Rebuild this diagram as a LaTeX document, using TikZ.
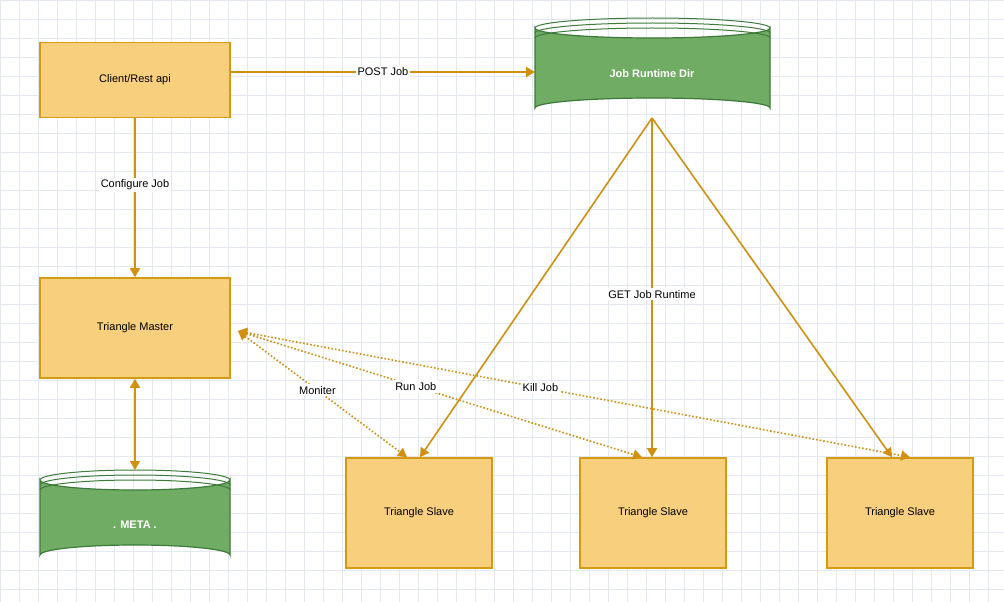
\documentclass[tikz,border=0pt]{standalone}
\usepackage{fontspec}
\setmainfont{Liberation Sans}
\usetikzlibrary{arrows.meta}
\definecolor{ofill}{HTML}{F8CF7C}
\definecolor{oline}{HTML}{D49A12}
\definecolor{gfill}{HTML}{70AC64}
\definecolor{gline}{HTML}{3E7B3A}
\definecolor{arr}{HTML}{D1900F}
\definecolor{grid}{HTML}{E4E8F0}
\tikzset{
 box/.style={draw=oline,fill=ofill,line width=1.6pt,font=\fontsize{11}{13}\selectfont},
 con/.style={draw=arr,line width=1.6pt,-{Triangle[length=9pt,width=10pt]}},
 dcon/.style={draw=arr,line width=1.6pt,dotted,{Triangle[length=9pt,width=10pt]}-{Triangle[length=9pt,width=10pt]}},
 lab/.style={fill=white,inner sep=2pt,font=\fontsize{11}{13}\selectfont},
}
\newcommand{\cyl}[5]{% x1,y1,x2,y2,name
 \pgfmathsetmacro{\cx}{(#1+#3)/2}\pgfmathsetmacro{\rx}{(#3-#1)/2}
 \fill[gfill,draw=gline,line width=1.2pt] (#1,#2+10) -- (#1,#4-10) arc[start angle=180,end angle=360,x radius=\rx,y radius=10] -- (#3,#2+10) arc[start angle=0,end angle=180,x radius=\rx,y radius=10] -- cycle;
 \draw[gline,line width=1pt] (#1,#2+10) arc[start angle=180,end angle=360,x radius=\rx,y radius=10];
 \draw[gline,line width=1pt] (#1,#2+15) arc[start angle=180,end angle=360,x radius=\rx,y radius=10];
 \draw[gline,line width=1pt] (#1,#2+20) arc[start angle=180,end angle=360,x radius=\rx,y radius=10];
 \coordinate (#5) at (\cx,{(#2+#4)/2});
}
\begin{document}
\begin{tikzpicture}[x=1pt,y=-1pt]
\fill[white] (0,0) rectangle (1004,602);
\useasboundingbox (0,0) rectangle (1004,602);
\foreach \i in {0,...,53} \draw[grid,line width=0.6pt] (\i*19,0) -- (\i*19,602);
\foreach \i in {0,...,32} \draw[grid,line width=0.6pt] (0,\i*19) -- (1004,\i*19);
\node[box,minimum width=190pt,minimum height=75pt] (client) at (135,80) {Client/Rest api};
\node[box,minimum width=190pt,minimum height=100pt] (master) at (135,328) {Triangle Master};
\node[box,minimum width=146pt,minimum height=110pt] (s1) at (419,513) {Triangle Slave};
\node[box,minimum width=146pt,minimum height=110pt] (s2) at (653,513) {Triangle Slave};
\node[box,minimum width=146pt,minimum height=110pt] (s3) at (900,513) {Triangle Slave};
\cyl{535}{18}{770}{118}{jrd}
\node[text=white,font=\bfseries\fontsize{11}{13}\selectfont] (jrdl) at (652,74) {Job Runtime Dir};
\cyl{40}{470}{230}{565}{meta}
\node[text=white,font=\bfseries\fontsize{11}{13}\selectfont] (metal) at (135,525) {. META .};
\coordinate (jin) at (535,72);
\coordinate (jout) at (652,118);
\coordinate (mtop) at (135,470);
\coordinate (mh) at (238,331);
\draw[con] (client.east|-jin) -- node[lab]{POST Job} (jin);
\draw[con] (client) -- node[lab,pos=0.42]{Configure Job} (master);
\draw[con,{Triangle[length=9pt,width=10pt]}-{Triangle[length=9pt,width=10pt]}] (master) -- (mtop);
\draw[con] (jout) -- (s1.north-|420,0);
\draw[con] (jout) -- node[lab,pos=0.52]{GET Job Runtime} (s2.north-|652,0);
\draw[con] (jout) -- (s3.north-|892,0);
\draw[dcon] (mh) -- node[lab,pos=0.47]{Moniter} (s1.north-|407,0);
\draw[dcon] (mh) -- node[lab,pos=0.44]{Run Job} (s2.north-|642,0);
\draw[dcon] (mh) -- node[lab,pos=0.45]{Kill Job} (s3.north-|910,0);
\end{tikzpicture}
\end{document}
